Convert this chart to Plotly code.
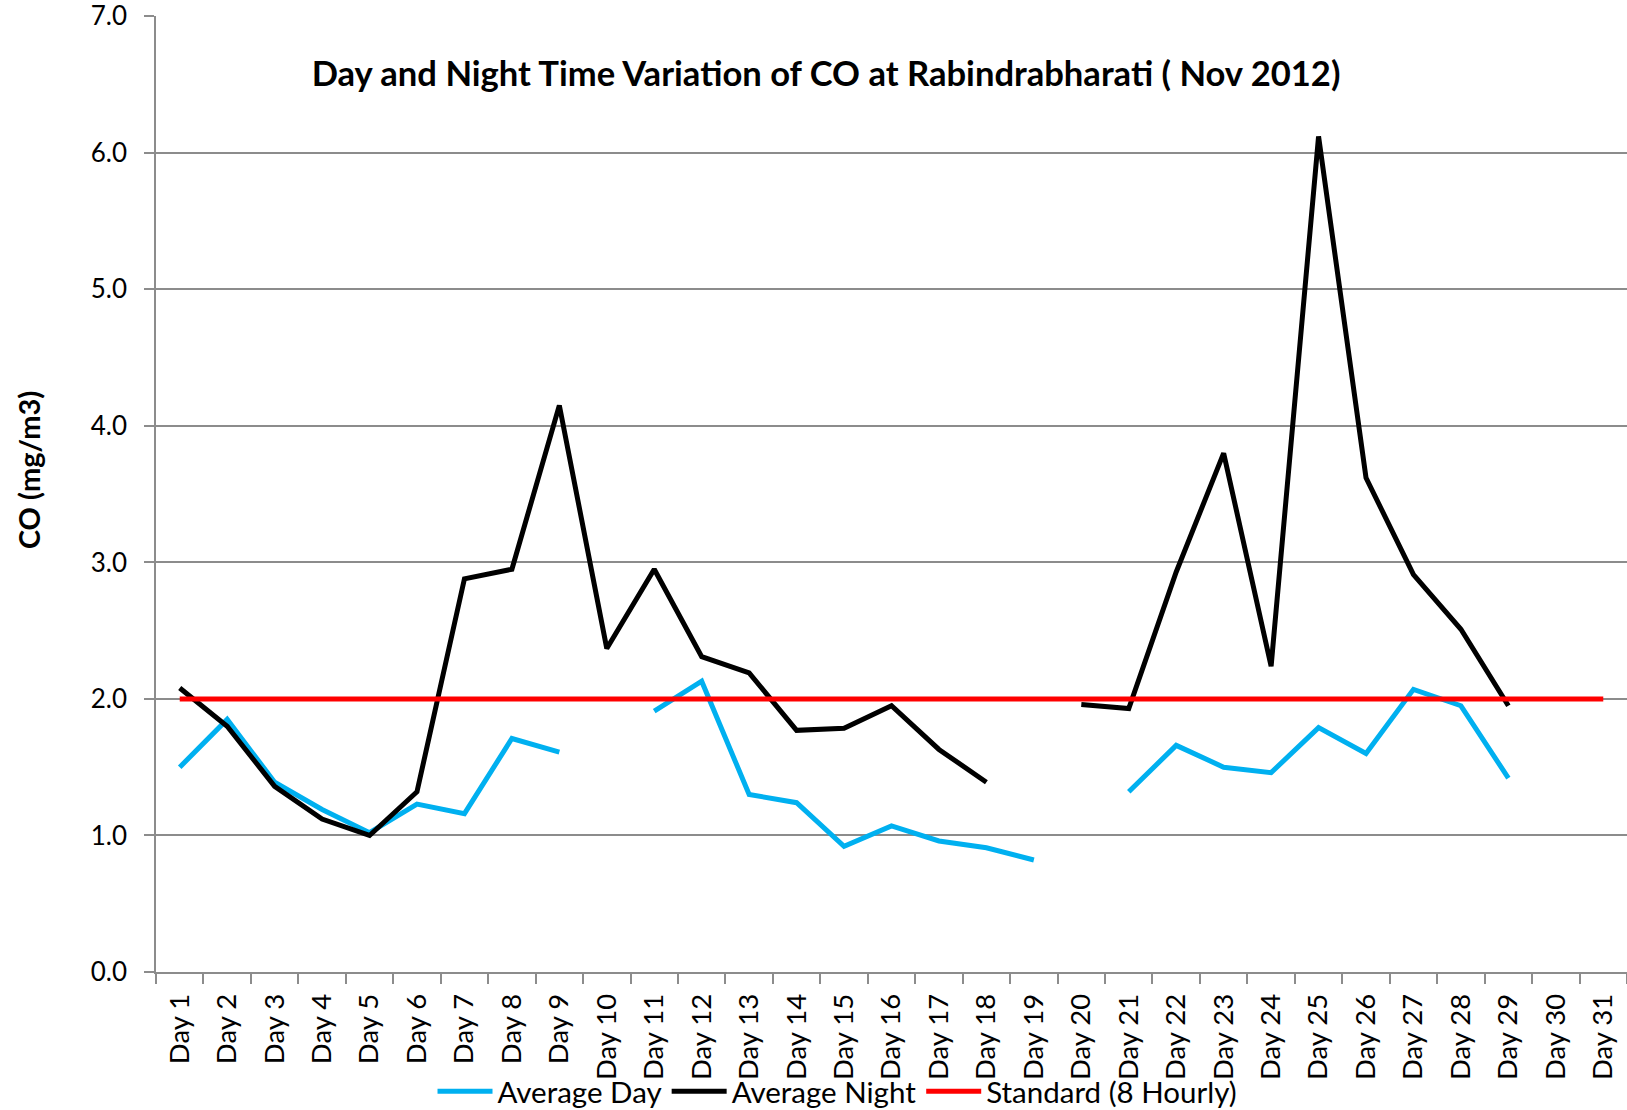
import plotly.graph_objects as go

days = ["Day 1", "Day 2", "Day 3", "Day 4", "Day 5", "Day 6", "Day 7", "Day 8",
        "Day 9", "Day 10", "Day 11", "Day 12", "Day 13", "Day 14", "Day 15", "Day 16",
        "Day 17", "Day 18", "Day 19", "Day 20", "Day 21", "Day 22", "Day 23", "Day 24",
        "Day 25", "Day 26", "Day 27", "Day 28", "Day 29", "Day 30", "Day 31"]

average_day = [1.50, 1.85, 1.39, 1.19, 1.02, 1.23, 1.16, 1.71, 1.61, None,
               1.91, 2.13, 1.30, 1.24, 0.92, 1.07, 0.96, 0.91, 0.82, None,
               1.32, 1.66, 1.50, 1.46, 1.79, 1.60, 2.07, 1.95, 1.42, None, None]

average_night = [2.08, 1.80, 1.36, 1.12, 1.00, 1.32, 2.88, 2.95, 4.15, 2.37,
                 2.95, 2.31, 2.19, 1.77, 1.785, 1.95, 1.63, 1.39, None, 1.96,
                 1.93, 2.93, 3.80, 2.24, 6.12, 3.62, 2.91, 2.51, 1.95, None, None]

standard_8h = [2.0, 2.0, 2.0, 2.0, 2.0, 2.0, 2.0, 2.0, 2.0, 2.0, 2.0, 2.0, 2.0, 2.0, 2.0, 2.0,
               2.0, 2.0, 2.0, 2.0, 2.0, 2.0, 2.0, 2.0, 2.0, 2.0, 2.0, 2.0, 2.0, 2.0, 2.0]

y_ticks = [0, 1, 2, 3, 4, 5, 6, 7]
y_tick_labels = ["0.0", "1.0", "2.0", "3.0", "4.0", "5.0", "6.0", "7.0"]

FONT = "Lato"
GRID = "#8c8c8c"

fig = go.Figure()
fig.add_trace(go.Scatter(x=days, y=average_day, mode="lines", name="Average Day",
                         line=dict(color="#00B0F0", width=5), connectgaps=False))
fig.add_trace(go.Scatter(x=days, y=average_night, mode="lines", name="Average Night",
                         line=dict(color="#000000", width=5), connectgaps=False))
fig.add_trace(go.Scatter(x=days, y=standard_8h, mode="lines", name="Standard (8 Hourly)",
                         line=dict(color="#FF0000", width=5)))

fig.update_layout(
    width=1627, height=1110,
    margin=dict(l=156, r=0, t=16, b=138, autoexpand=False),
    paper_bgcolor="white", plot_bgcolor="white",
    font=dict(family=FONT, color="black"),
    title=dict(text="<b>Day and Night Time Variation of CO at Rabindrabharati ( Nov 2012)</b>",
               x=0.5077, xanchor="center", y=0.9336, yanchor="middle",
               font=dict(family=FONT, size=34.6, color="black"), automargin=False),
    showlegend=True,
    legend=dict(orientation="h", x=0.4633, xanchor="center", y=-0.1250, yanchor="middle",
                font=dict(family=FONT, size=29.5, color="black"),
                bgcolor="rgba(0,0,0,0)", itemwidth=55, tracegroupgap=0),
    annotations=[dict(text="<b>CO (mg/m3)</b>", xref="paper", yref="paper",
                      x=-0.087, y=0.525, xanchor="center", yanchor="middle",
                      textangle=-90, showarrow=False,
                      font=dict(family=FONT, size=29, color="black"))],
)

fig.update_xaxes(
    type="category", categoryorder="array", categoryarray=days,
    tickangle=-90, tickfont=dict(family=FONT, size=27.5, color="black"),
    showgrid=False, showline=True, linecolor=GRID, linewidth=1.5,
    ticks="outside", ticklen=10, tickcolor=GRID, tickwidth=1.5, tickson="boundaries",
    ticklabelstandoff=9,
    range=[-0.5, 30.5], zeroline=False, automargin=False, ticklabeloverflow="allow",
)
fig.update_yaxes(
    range=[0, 7.002], tickvals=y_ticks, ticktext=y_tick_labels,
    tickfont=dict(family=FONT, size=26, color="black"),
    showgrid=True, gridcolor=GRID, gridwidth=1.5,
    showline=True, linecolor=GRID, linewidth=1.5,
    ticks="outside", ticklen=10, tickcolor=GRID, tickwidth=1.5, ticklabelstandoff=12,
    zeroline=False, automargin=False, ticklabeloverflow="allow",
)

fig.write_html(
    "out.html",
    config={"displayModeBar": False},
    post_script="document.body.style.margin='0';document.documentElement.style.overflow='hidden';",
)
